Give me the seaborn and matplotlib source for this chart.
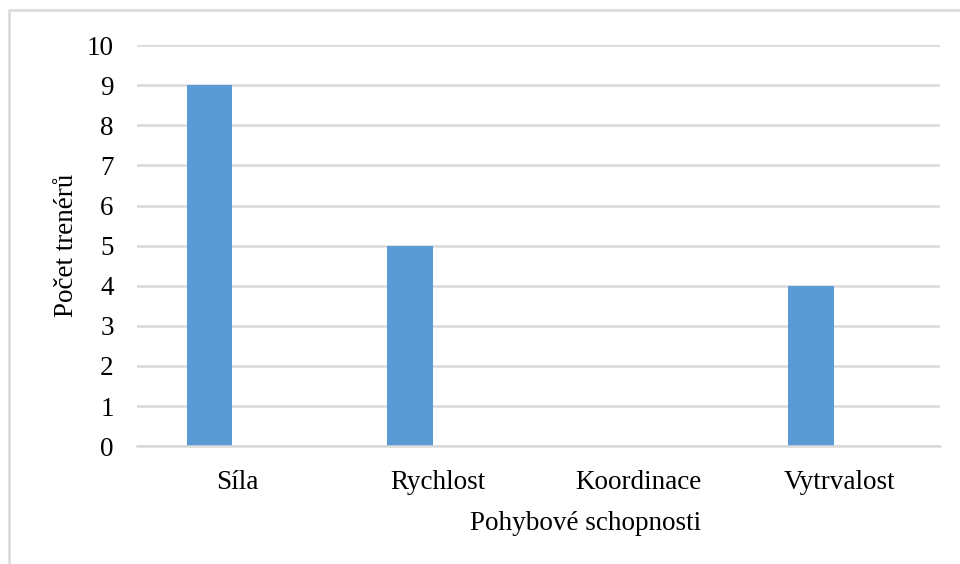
import matplotlib
matplotlib.use("Agg")
import matplotlib.pyplot as plt
import seaborn as sns
import pandas as pd
from matplotlib.patches import Rectangle

# Data
categories = ["Síla", "Rychlost", "Koordinace", "Vytrvalost"]
counts = [9, 5, 0, 4]
y_ticks = [0, 1, 2, 3, 4, 5, 6, 7, 8, 9, 10]

df = pd.DataFrame({"schopnost": categories, "pocet": counts})

sns.set_theme(style="white")
plt.rcParams["font.family"] = ["Liberation Serif", "DejaVu Serif"]

fig = plt.figure(figsize=(9.6, 5.64), dpi=100)
ax = fig.add_axes([0.143, 0.209, 0.836, 0.711])

bar_color = "#5B9BD5"
grid_color = "#D9D9D9"
fs = 19.5

# Bars sit left of each category centre, like the first series of a clustered pair
shift = 0.141
sns.barplot(data=df, x="schopnost", y="pocet", order=categories,
            color=bar_color, width=0.227, saturation=1, linewidth=0,
            ax=ax, zorder=3)

ax.set_xlim(-0.5 + shift, len(categories) - 0.5 + shift)
ax.set_xticks([i + shift for i in range(len(categories))])
ax.set_xticklabels(categories)

ax.set_ylim(0, 10)
ax.set_yticks(y_ticks)
ax.set_yticklabels([str(t) for t in y_ticks])

ax.yaxis.grid(True, color=grid_color, linewidth=1.8, zorder=0)
ax.xaxis.grid(False)
for side in ["top", "right", "left"]:
    ax.spines[side].set_visible(False)
ax.spines["bottom"].set_color(grid_color)
ax.spines["bottom"].set_linewidth(1.8)
ax.spines["bottom"].set_zorder(4)

ax.tick_params(axis="y", length=0, pad=17, labelsize=fs, colors="#000000")
ax.tick_params(axis="x", length=0, pad=17, labelsize=fs, colors="#000000")

ax.set_xlabel("Pohybové schopnosti", fontsize=fs, color="#000000")
ax.set_ylabel("Počet trenérů", fontsize=fs, color="#000000")
ax.xaxis.set_label_coords(0.559, -0.163)
ax.yaxis.set_label_coords(-0.073, 0.5)

# Chart-area border
fig.patches.append(Rectangle((9 / 960, -0.1), 1.2, 1 - 10 / 564 + 0.1,
                             transform=fig.transFigure, fill=False,
                             edgecolor=grid_color, linewidth=1.8))

fig.savefig("out.png", dpi=100)
